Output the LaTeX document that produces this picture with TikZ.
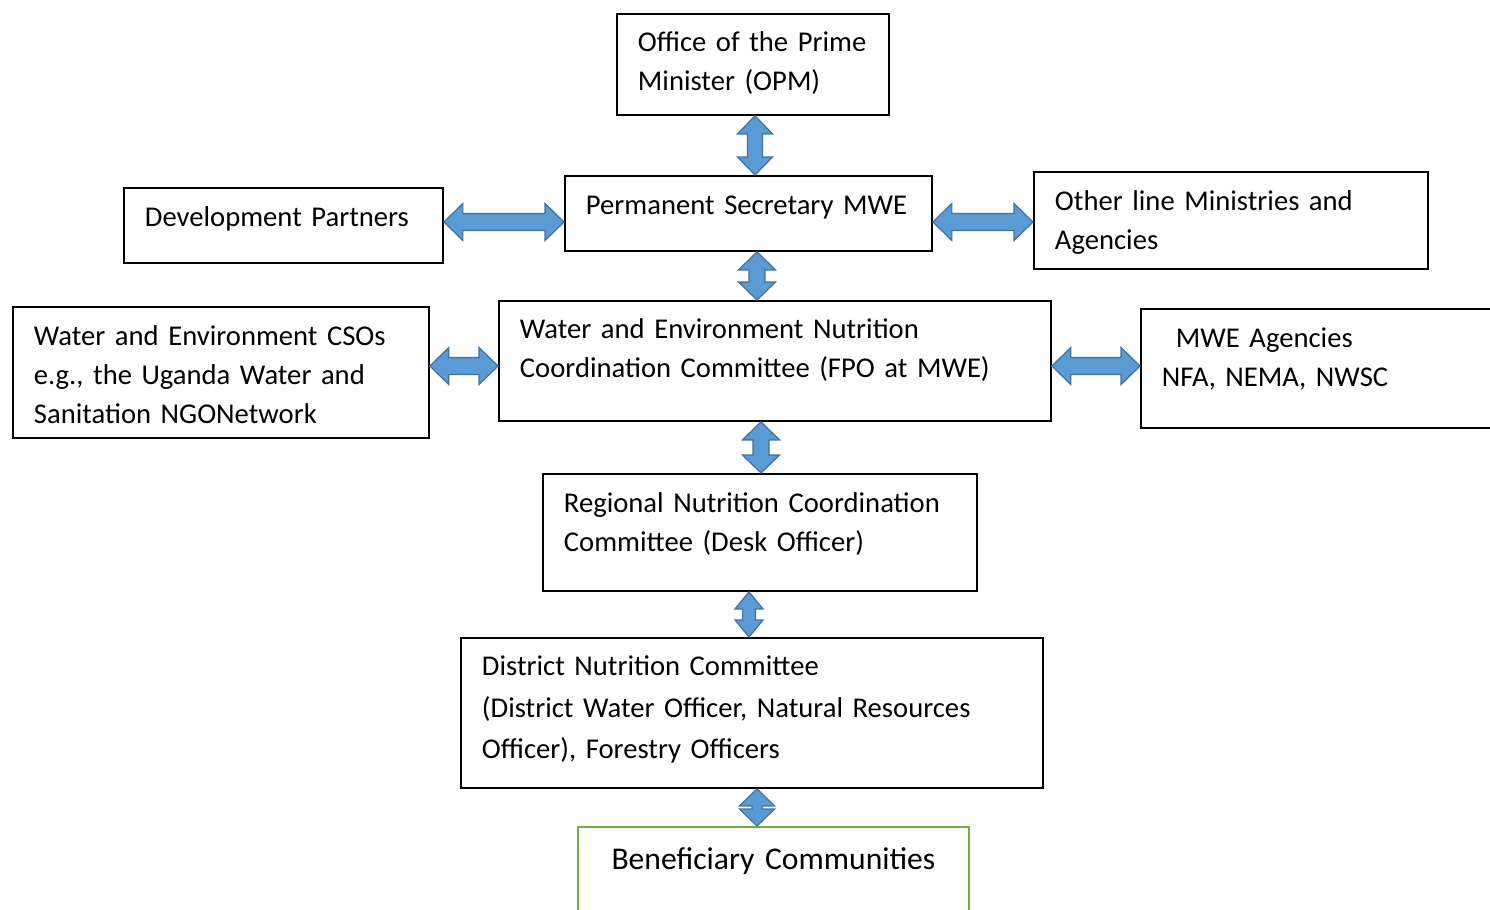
\documentclass[tikz,border=0pt]{standalone}
\usepackage{fontspec}
\setmainfont{Carlito}
\usepackage{tikz}
\usetikzlibrary{calc, positioning}
\definecolor{linkfill}{RGB}{91,155,213}
\definecolor{linkdraw}{RGB}{65,113,156}
\definecolor{benefcolor}{RGB}{112,173,71}

% block double arrows: from, to, head half width, shaft half width, head length
\newcommand{\vlink}[5]{%
  \draw[link] let \p1=(#1), \p2=(#2) in
    (\x1,\y1) -- (\x1+#3,\y1-#5) -- (\x1+#4,\y1-#5) -- (\x1+#4,\y2+#5) -- (\x1+#3,\y2+#5)
    -- (\x1,\y2) -- (\x1-#3,\y2+#5) -- (\x1-#4,\y2+#5) -- (\x1-#4,\y1-#5) -- (\x1-#3,\y1-#5) -- cycle;}
\newcommand{\hlink}[5]{%
  \draw[link] let \p1=(#1), \p2=(#2) in
    (\x1,\y1) -- (\x1+#5,\y1+#3) -- (\x1+#5,\y1+#4) -- (\x2-#5,\y1+#4) -- (\x2-#5,\y1+#3)
    -- (\x2,\y1) -- (\x2-#5,\y1-#3) -- (\x2-#5,\y1-#4) -- (\x1+#5,\y1-#4) -- (\x1+#5,\y1-#3) -- cycle;}

\begin{document}
\begin{tikzpicture}[
    x=0.02cm, y=-0.02cm,
    box/.style={draw, line width=1.1pt, anchor=north west, align=left, inner xsep=0.42cm, inner ysep=0pt,
      text height=0.78cm, font=\fontsize{16.3}{22.2}\selectfont},
    link/.style={fill=linkfill, draw=linkdraw, line width=0.7pt}
]
    \useasboundingbox (0,0) rectangle (1490,909);

    % Boxes
    \node[box, text width=4.6cm, text height=0.76cm, text depth=1.26cm] (opm) at (616,13) {Office of the Prime\\Minister (OPM)};
    \node[box, text width=6.5cm, text depth=0.72cm] (ps) at (564,175) {Permanent Secretary MWE};
    \node[box, text width=5.54cm, text depth=0.72cm] (dev) at (123,187) {Development Partners};
    \node[box, text width=7.04cm, text depth=1.16cm] (other) at (1033,171) {Other line Ministries and\\Agencies};
    \node[box, text width=7.48cm, text depth=1.84cm] (cso) at (12,306) {Water and Environment CSOs\\e.g., the Uganda Water and\\Sanitation NGONetwork};
    \node[box, text width=10.2cm, text height=0.76cm, text depth=1.64cm] (wencc) at (498,300) {Water and Environment Nutrition\\Coordination Committee (FPO at MWE)};
    \node[box, text width=7.16cm, text depth=1.6cm] (agency) at (1140,308) {\hspace{0.28cm}MWE Agencies\\NFA, NEMA, NWSC};
    \node[box, text width=7.84cm, text depth=1.56cm] (region) at (542,473) {Regional Nutrition Coordination\\Committee (Desk Officer)};
    \node[box, text width=10.8cm, text height=0.76cm, text depth=2.24cm, font=\fontsize{16.3}{23.4}\selectfont] (district) at (460,637) {District Nutrition Committee\\(District Water Officer, Natural Resources\\Officer), Forestry Officers};
    \node[box, draw=benefcolor, align=center, text width=6.98cm, text height=0.86cm, text depth=2.14cm, font=\fontsize{18}{24}\selectfont] (benef) at (577,826) {Beneficiary Communities};

    % Arrows
    \vlink{opm.south -| 755,0}{ps.north -| 755,0}{0.35cm}{0.15cm}{0.36cm}
    \hlink{dev.east |- 0,222}{ps.west |- 0,222}{0.37cm}{0.17cm}{0.38cm}
    \hlink{ps.east |- 0,222}{other.west |- 0,222}{0.37cm}{0.17cm}{0.38cm}
    \vlink{ps.south -| 757,0}{wencc.north -| 757,0}{0.37cm}{0.16cm}{0.36cm}
    \hlink{cso.east |- 0,366}{wencc.west |- 0,366}{0.37cm}{0.17cm}{0.38cm}
    \hlink{wencc.east |- 0,366}{agency.west |- 0,366}{0.37cm}{0.17cm}{0.38cm}
    \vlink{wencc.south -| 761,0}{region.north -| 761,0}{0.37cm}{0.16cm}{0.36cm}
    \vlink{region.south -| 749,0}{district.north -| 749,0}{0.28cm}{0.13cm}{0.34cm}
    \vlink{district.south -| 757,0}{benef.north -| 757,0}{0.35cm}{0.10cm}{0.34cm}
\end{tikzpicture}
\end{document}
